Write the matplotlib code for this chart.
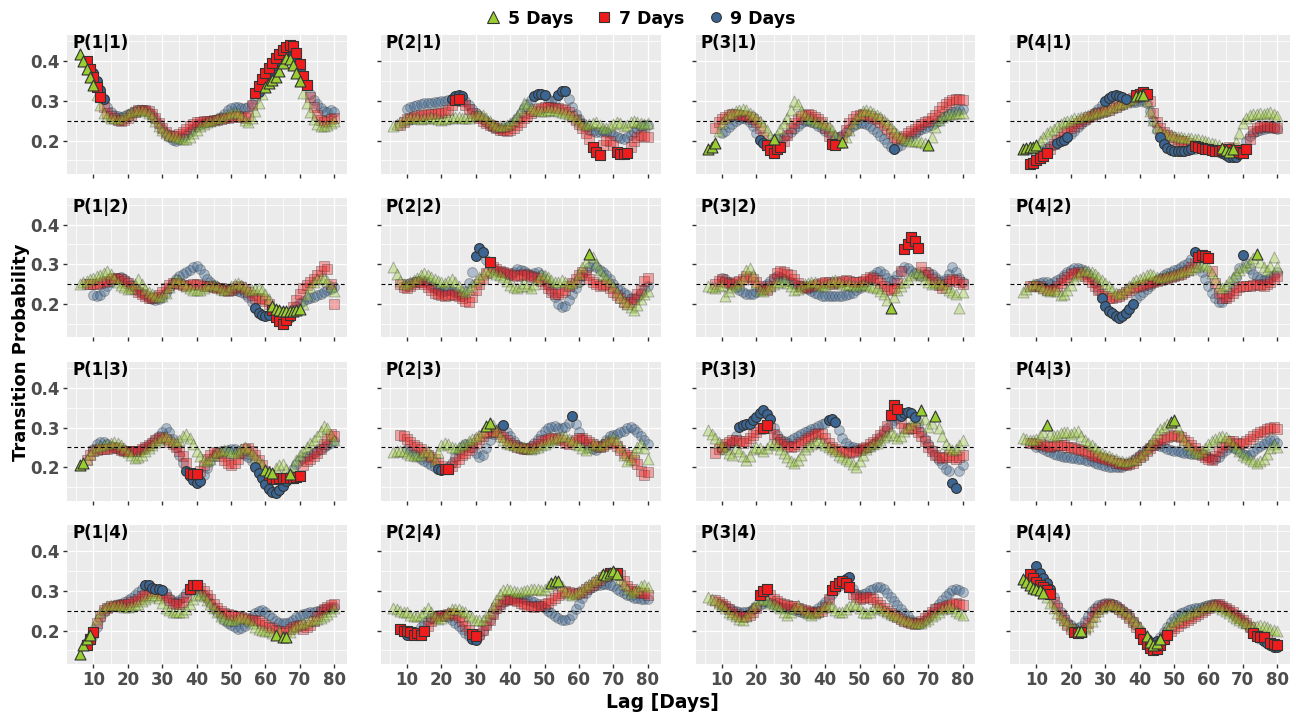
import numpy as np
import matplotlib
matplotlib.use("Agg")
import matplotlib.pyplot as plt
from matplotlib.lines import Line2D

plt.rcParams["font.family"] = ["DejaVu Sans"]

# transition probabilities in 1/1000, one value per lag day, last lag = 80
# 5 Days starts at lag 6, 7 Days at lag 8, 9 Days at lag 10
PANELS = ["1|1", "2|1", "3|1", "4|1",
          "1|2", "2|2", "3|2", "4|2",
          "1|3", "2|3", "3|3", "4|3",
          "1|4", "2|4", "3|4", "4|4"]

d5 = {
    "1|1": [419,400,380,360,340, 315,290,270,262,258, 256,255,257,262,268, 272,275,277,276,274,
            270,262,250,238,228, 220,215,212,210,207, 205,205,210,218,228, 236,242,246,250,253,
            256,258,262,266,270, 272,270,262,252,248, 258,275,295,318,336, 345,352,360,375,395,
            408,405,390,370,350, 320,295,272,255,242, 238,238,240,245,250],
    "2|1": [237,242,248,252,255, 257,258,256,254,256, 258,260,258,255,253, 254,256,258,260,259,
            257,256,258,261,264, 266,265,258,250,243, 238,236,236,239,244, 252,262,278,295,290,
            282,278,276,275,275, 276,277,276,275,273, 270,267,263,256,249, 243,240,242,245,246,
            240,232,232,238,243, 246,244,238,240,246, 250,248,244,242,244],
    "3|1": [180,185,195,225,245, 258,266,270,274,277, 280,276,270,264,258, 250,240,226,212,205,
            215,230,245,258,278, 300,292,275,265,258, 254,250,248,245,242, 236,226,215,204,196,
            210,228,245,258,268, 274,276,274,270,265, 260,252,245,235,225, 216,208,204,202,200,
            199,198,197,195,188, 210,235,252,260,264, 266,268,270,270,270],
    "4|1": [180,182,183,184,188, 200,210,218,224,230, 236,241,246,250,253, 256,258,260,262,265,
            268,270,272,275,277, 280,284,288,292,295, 298,302,306,312,316, 314,300,275,252,235,
            225,220,217,214,212, 210,208,207,206,206, 205,203,201,198,196, 194,192,188,182,176,
            172,178,196,218,245, 258,265,266,268,270, 268,270,272,268,262],
    "1|2": [250,254,258,262,266, 270,274,278,282,276, 266,256,248,242,238, 240,250,262,250,238,
            230,224,220,218,220, 228,242,256,264,260, 252,246,240,236,234, 236,240,246,250,248,
            244,238,234,238,244, 250,252,248,242,236, 235,238,240,236,226, 212,196,188,184,182,
            181,182,183,185,188, 200,222,242,255,262, 266,266,258,245,232],
    "2|2": [292,275,258,250,250, 254,260,266,272,278, 274,268,262,258,254, 252,258,264,256,244,
            234,230,238,248,258, 268,276,284,286,280, 275,272,268,258,248, 242,240,246,252,246,
            240,250,262,276,274, 268,260,255,256,260, 256,250,252,258,276, 292,305,325,318,300,
            285,272,265,258,245, 230,218,208,200,192, 185,198,212,226,232],
    "3|2": [245,242,240,244,248, 220,232,242,248,252, 262,285,290,272,252, 236,232,240,246,250,
            254,256,260,252,244, 235,238,244,250,252, 255,254,248,245,248, 252,258,260,255,250,
            248,250,248,245,248, 250,248,245,242,240, 232,224,210,189,218, 235,246,256,264,272,
            278,280,272,264,256, 250,252,256,250,242, 236,230,225,190,230],
    "4|2": [230,238,245,250,250, 246,240,235,232,234, 232,222,226,236,248, 262,274,282,286,284,
            280,275,268,260,252, 244,236,228,226,230, 238,246,254,260,264, 268,272,275,272,268,
            266,268,270,272,275, 278,280,282,285,288, 292,296,300,298,292, 278,262,245,240,248,
            258,268,278,286,292, 298,305,315,325,305, 292,285,295,318,292],
    "1|3": [207,212,222,234,244, 250,254,257,260,262, 264,262,256,248,238, 230,224,226,232,240,
            248,256,264,270,276, 278,272,266,264,270, 278,285,275,258,242, 228,218,215,220,230,
            238,242,244,242,238, 236,240,246,250,246, 236,226,216,208,194, 188,186,198,206,208,
            196,182,200,218,232, 242,252,262,270,280, 292,305,298,282,268],
    "2|3": [238,240,242,240,236, 232,230,229,232,238, 242,230,218,238,255, 262,258,250,248,252,
            256,260,266,272,276, 282,292,305,312,306, 292,278,268,262,258, 256,254,252,250,248,
            246,248,252,256,260, 264,268,272,276,280, 278,272,266,260,255, 248,244,252,260,258,
            254,260,266,272,276, 270,252,232,215,222, 238,252,262,248,222],
    "3|3": [295,285,275,265,256, 245,236,232,248,240, 228,218,228,246,252, 248,240,248,258,262,
            256,245,235,225,215, 210,218,232,246,254, 258,264,268,262,256, 252,246,240,232,226,
            222,215,208,202,215, 232,245,254,258,262, 270,276,282,288,282, 274,280,292,302,310,
            318,328,345,322,302, 312,330,300,278,258, 248,244,246,256,268],
    "4|3": [275,272,270,270,272, 278,288,306,285,278, 282,286,290,288,284, 290,292,280,270,262,
            255,248,242,236,232, 228,224,220,217,215, 214,215,218,222,228, 236,246,258,272,286,
            296,302,308,314,318, 300,282,268,255,245, 238,236,240,248,258, 266,272,276,278,276,
            270,260,250,240,232, 226,220,215,212,215, 222,234,248,258,252],
    "1|4": [142,165,178,190,210, 230,248,258,263,265, 265,264,262,260,260, 261,264,268,274,280,
            285,290,290,282,270, 258,252,248,246,246, 248,254,266,280,290, 292,286,276,266,256,
            246,238,232,228,226, 228,232,234,232,226, 218,210,205,202,200, 198,194,190,198,185,
            184,196,206,212,216, 220,223,226,228,230, 233,237,243,250,258],
    "2|4": [258,255,250,248,246, 240,236,236,240,248, 258,248,236,230,232, 240,248,254,255,254,
            250,246,240,234,228, 226,228,236,248,262, 278,292,302,304,302, 300,298,298,300,302,
            304,305,304,302,305, 312,320,326,325,312, 300,292,290,294,300, 306,312,318,324,330,
            336,342,340,344,350, 342,330,318,304,296, 300,306,312,316,310],
    "3|4": [284,280,276,270,264, 256,248,242,236,230, 228,236,248,260,270, 276,280,276,270,266,
            262,258,248,240,248, 258,264,258,250,244, 240,244,250,256,262, 266,260,252,246,248,
            254,262,268,264,256, 248,244,248,254,260, 258,252,246,242,240, 236,232,228,226,222,
            220,218,220,225,230, 236,242,248,254,258, 260,256,250,244,240],
    "4|4": [330,322,314,308,306, 302,296,284,270,256, 245,235,226,218,212, 206,200,198,204,212,
            225,238,250,257,262, 265,266,263,258,252, 246,238,228,218,208, 198,186,172,165,170,
            180,196,208,216,224, 230,236,240,243,246, 249,252,256,260,263, 265,264,260,255,250,
            244,238,232,226,221, 218,214,211,212,214, 212,208,205,202,200],
}

d7 = {
    "1|1": [400,380,360, 335,310,285,270,262, 256,252,250,252,258, 265,272,276,278,277, 274,268,258,245,232,
            222,215,211,212,216, 222,230,236,242,246, 248,250,250,250,251, 252,254,256,258,260, 261,262,260,257,262,
            290,320,338,355,370, 382,395,408,418,428, 436,442,438,420,392, 362,340,310,285,265, 252,248,250,255,258],
    "2|1": [240,248,255, 258,260,262,264,265, 266,267,268,269,270, 272,278,290,302,304, 300,290,280,270,262,
            256,250,245,240,236, 232,228,226,225,228, 233,240,248,256,263, 270,275,279,282,284, 285,284,282,281,280,
            278,272,262,252,242, 232,220,205,185,172, 165,190,202,198,188, 172,166,166,168,185, 200,210,215,212,210],
    "3|1": [232,248,255, 260,264,266,266,265, 264,262,259,254,248, 232,210,190,176,170, 178,185,198,215,232,
            245,255,262,265,266, 264,260,254,246,232, 212,192,188,195,210, 228,244,255,261,265, 266,264,261,258,254,
            248,240,230,220,210, 205,207,212,218,224, 230,236,241,246,250, 256,265,275,284,292, 298,302,304,305,302],
    "4|1": [140,144,150, 156,162,170,180,192, 202,210,218,225,232, 238,244,250,255,259, 263,266,269,272,275,
            278,281,285,289,293, 297,302,308,314,318, 322,318,300,270,248, 232,222,214,209,205, 202,200,198,195,190,
            186,184,182,180,178, 176,175,174,176,178, 185,182,176,172,170, 178,205,225,232,235, 236,236,235,234,233],
    "1|2": [250,250,250, 251,252,254,258,262, 265,266,264,258,252, 246,238,230,224,219, 216,215,217,222,230,
            240,248,252,252,250, 248,246,247,249,250, 248,246,245,244,242, 240,239,236,232,234, 240,244,243,238,230,
            222,216,214,212,208, 200,186,168,156,150, 160,172,192,210,226, 240,248,255,262,272, 284,296,288,250,200],
    "2|2": [250,242,240, 244,250,255,254,250, 242,234,228,224,222, 220,222,225,223,220, 214,208,205,218,234,
            250,264,278,305,292, 288,284,280,277,275, 272,270,272,275,273, 270,268,265,258,250, 240,230,226,225,230,
            236,244,252,262,272, 280,272,262,255,250, 245,248,250,240,230, 222,214,206,200,204, 212,224,236,258,265],
    "3|2": [250,258,262, 256,252,250,254,258, 264,270,268,264,255, 246,238,236,244,262, 278,282,280,276,272,
            262,252,244,240,242, 245,248,250,252,255, 254,250,252,255,258, 260,258,255,254,255, 258,262,268,266,260,
            252,245,238,234,240, 252,282,338,352,368, 358,340,292,280,272, 264,256,248,240,250, 258,262,260,255,250],
    "4|2": [245,246,246, 244,240,236,235,238, 245,252,260,268,275, 279,280,276,270,262, 254,244,235,226,220,
            216,215,217,220,225, 230,235,240,243,246, 248,250,252,255,258, 260,263,266,268,270, 273,276,280,285,292,
            302,318,322,320,315, 282,252,228,215,214, 220,228,236,242,246, 246,245,248,250,248, 246,250,256,264,270],
    "1|3": [218,230,240, 244,246,246,247,249, 250,248,244,241,240, 240,240,242,246,251, 256,262,268,273,276,
            272,265,258,252,242, 228,210,186,183,184, 190,205,220,232,238, 236,228,218,210,206, 210,222,236,246,248,
            240,230,218,205,192, 180,174,170,172,174, 173,172,174,175,178, 205,215,222,228,235, 245,258,272,285,278],
    "2|3": [282,280,272, 264,256,250,245,238, 232,226,220,212,204, 196,195,204,214,222, 230,237,244,252,262,
            272,280,286,290,292, 290,284,276,268,262, 256,252,249,246,246, 248,254,260,266,270, 272,274,275,272,268,
            262,260,264,270,275, 274,270,264,258,254, 250,254,260,264,262, 254,244,236,230,225, 218,208,190,180,188],
    "3|3": [235,245,252, 260,265,268,270,266, 262,266,274,282,290, 296,300,306,298,285, 272,264,258,254,252,
            254,258,264,270,275, 280,284,286,284,275, 262,252,246,242,240, 238,236,238,240,244, 248,252,258,264,272,
            282,292,305,332,356, 346,312,298,296,300, 298,290,278,266,252, 240,232,226,224,226, 230,226,222,226,230],
    "4|3": [262,261,260, 258,256,254,252,253, 255,256,255,252,250, 248,246,243,240,236, 232,229,226,223,220,
            218,215,212,210,208, 207,209,212,218,225, 232,240,248,255,262, 268,272,276,280,282, 280,276,270,264,256,
            248,240,232,225,220, 218,228,240,252,260, 266,266,262,260,262, 266,272,278,284,288, 292,296,300,302,296],
    "1|4": [164,180,196, 218,238,252,258,261, 263,264,265,266,268, 271,275,280,286,291, 296,300,300,296,290,
            284,276,270,266,266, 272,284,305,314,316, 308,300,290,279,268, 258,250,245,242,240, 238,236,234,232,230,
            228,226,224,220,215, 210,206,202,198,194, 198,204,208,212,214, 205,208,215,225,236, 246,254,260,264,266],
    "2|4": [205,200,200, 196,190,195,188,200, 212,224,232,236,238, 240,242,244,240,234, 224,212,202,192,186,
            192,202,214,228,242, 256,266,274,279,280, 278,274,270,266,263, 261,260,261,263,266, 270,276,283,290,296,
            300,298,294,292,294, 298,304,310,316,322, 328,334,340,344,346, 346,340,325,312,304, 300,298,296,294,290],
    "3|4": [276,272,268, 262,255,248,242,238, 235,236,240,248,258, 290,300,306,290,280, 274,270,267,265,263,
            261,258,255,252,250, 247,245,247,250,260, 280,302,312,320,325, 320,310,292,284,280, 282,285,284,280,272,
            264,256,250,245,240, 235,230,225,221,218, 216,218,224,232,240, 248,254,258,260,262, 265,268,270,268,264],
    "4|4": [342,332,322, 315,310,302,292,272, 256,240,226,214,205, 196,193,196,206,220, 234,246,254,260,264,
            266,264,260,254,248, 241,233,222,210,195, 180,166,156,150,155, 165,178,190,200,206, 212,218,223,228,233,
            238,243,248,253,258, 262,265,266,263,258, 252,246,240,233,226, 218,208,195,186,184, 184,180,170,166,165],
}

d9 = {
    "1|1": [370, 350,328,305,285,272, 265,262,260,262,266, 270,274,277,278,276, 272,265,255,242,230,
            218,208,202,200,203, 208,215,222,230,236, 241,245,248,250,252, 255,260,268,276,282,
            284,284,283,282,285, 292,305,322,338,352, 365,378,390,402,412, 420,425,418,400,380,
            360,340,318,302,292, 282,275,272,276,272],
    "2|1": [280, 285,288,290,292,294, 295,296,297,298,299, 300,302,306,312,314, 312,300,290,280,270,
            262,255,248,240,235, 232,230,231,234,240, 248,258,270,282,292, 302,312,318,318,315,
            305,300,302,315,325, 324,305,285,268,255, 245,235,228,224,222, 223,225,223,220,215,
            210,206,204,208,215, 222,230,236,240,240],
    "3|1": [218, 225,235,243,250,254, 256,254,248,236,218, 202,195,190,195,200, 203,206,210,215,222,
            230,238,245,249,250, 248,244,238,232,225, 218,211,208,210,215, 222,230,237,242,245,
            245,243,238,230,222, 212,203,195,185,178, 183,190,198,205,212, 218,224,229,233,236,
            240,245,250,256,261, 266,271,275,278,280],
    "4|1": [170, 174,178,182,186,190, 194,198,202,208,216, 225,234,242,250,258, 265,272,280,290,300,
            308,312,314,313,310, 305,300,298,298,300, 302,296,275,250,228, 208,192,182,176,174,
            173,173,174,176,178, 180,182,183,182,180, 178,175,172,168,164, 160,158,160,166,180,
            198,212,220,225,228, 230,231,232,231,230],
    "1|2": [222, 220,222,232,245,255, 262,266,268,264,256, 248,240,233,228,222, 216,212,210,212,218,
            228,240,252,262,270, 276,280,285,292,296, 288,276,264,254,247, 243,241,240,238,236,
            234,232,229,225,218, 205,190,176,172,170, 172,176,180,181,180, 168,166,184,194,202,
            208,212,215,218,222, 226,230,234,238,242],
    "2|2": [250, 252,255,258,260,258, 254,246,240,234,230, 232,235,233,230,224, 220,232,252,280,320,
            342,330,310,298,288, 282,280,280,276,272, 280,288,286,284,278, 274,278,280,272,264,
            248,232,218,200,192, 195,210,225,240,255, 270,282,292,300,292, 285,280,272,262,250,
            240,234,228,222,216, 212,218,228,238,245],
    "3|2": [265, 262,256,250,242,236, 230,226,224,226,230, 236,242,250,258,266, 270,268,264,258,254,
            250,248,246,242,238, 233,228,224,221,220, 219,219,220,220,221, 222,224,228,234,240,
            248,256,264,272,280, 282,276,266,258,260, 272,284,292,290,284, 278,272,270,276,280,
            276,268,260,256,262, 276,292,280,266,256],
    "4|2": [250, 252,255,254,250,254, 260,266,272,280,286, 290,290,288,284,276, 266,252,236,215,196,
            182,176,170,165,170, 178,188,200,212,222, 230,238,246,254,260, 266,272,277,281,285,
            289,293,298,304,312, 332,300,280,262,245, 228,214,205,206,214, 228,248,268,290,322,
            302,288,276,268,262, 260,262,266,272,280],
    "1|3": [245, 258,264,264,260,254, 250,246,244,242,240, 240,240,242,245,250, 256,264,272,280,290,
            298,290,272,252,232, 212,192,178,168,160, 166,180,198,215,228, 236,240,242,244,246,
            245,240,236,232,226, 215,200,186,172,158, 146,138,136,142,152, 165,180,196,208,218,
            224,228,232,236,240, 245,250,256,262,266],
    "2|3": [245, 240,234,228,222,216, 211,206,200,196,194, 196,202,212,226,240, 252,258,258,252,236,
            226,230,248,268,285, 295,300,306,290,278, 266,256,250,246,248, 254,262,272,282,292,
            298,302,304,300,298, 302,312,330,310,290, 272,260,252,246,244, 250,260,270,278,282,
            285,288,292,298,302, 296,288,278,268,260],
    "3|3": [245, 250,256,264,280,302, 306,308,310,318,328, 338,344,335,322,300, 282,272,266,264,268,
            274,280,284,288,292, 296,300,304,308,312, 320,322,315,295,275, 262,254,250,248,246,
            246,248,252,258,266, 276,288,300,310,318, 324,330,336,340,336, 328,310,290,272,258,
            244,230,218,208,196, 190,160,148,190,205],
    "4|3": [252, 250,246,242,238,234, 231,228,226,225,224, 223,221,220,219,217, 215,212,209,206,204,
            202,200,200,200,202, 205,210,216,223,231, 239,246,252,256,256, 254,250,247,244,242,
            240,238,236,235,234, 234,234,233,230,226, 222,221,226,235,244, 250,250,246,240,234,
            230,232,240,248,254, 258,264,270,268,262],
    "1|4": [190, 210,232,248,256,260, 263,266,268,271,276, 282,290,298,306,314, 316,308,305,304,303,
            294,282,274,272,276, 284,294,302,305,302, 296,290,282,270,258, 246,236,228,220,214,
            208,205,206,212,222, 234,244,250,252,248, 240,232,225,220,218, 218,222,228,234,238,
            241,244,246,248,250, 252,254,256,258,260],
    "2|4": [190, 194,196,194,208,218, 226,232,236,240,240, 238,234,228,220,212, 204,195,186,180,176,
            186,200,214,228,242, 254,264,272,277,280, 281,282,281,280,278, 275,272,268,262,256,
            250,244,238,232,228, 226,230,240,254,268, 282,294,304,310,314, 316,318,318,316,312,
            306,300,295,290,286, 283,281,280,280,280],
    "3|4": [265, 260,256,252,250,248, 246,247,250,255,260, 265,270,272,270,266, 263,260,258,256,254,
            251,249,247,245,245, 246,250,256,264,272, 282,292,302,312,322, 330,335,305,292,290,
            292,296,302,306,310, 310,305,296,285,274, 264,254,245,236,228, 222,218,220,226,235,
            245,256,266,276,286, 295,302,305,302,298],
    "4|4": [362, 345,332,320,304,284, 264,248,234,222,213, 207,206,212,224,238, 250,258,264,268,270,
            270,268,264,258,252, 245,236,225,213,200, 188,178,172,170,174, 184,196,210,222,232,
            239,244,248,251,254, 256,258,260,262,264, 266,267,266,262,256, 250,244,238,232,225,
            216,206,196,188,180, 174,168,163,160,160],
}

# lag ranges (inclusive) drawn opaque
hi5 = {"1|1": [(6, 10), (60, 70)], "3|1": [(6, 8), (25, 25), (45, 45), (70, 70)],
       "4|1": [(6, 10), (39, 41), (64, 67)], "1|2": [(62, 70)], "2|2": [(63, 63)],
       "3|2": [(59, 59)], "4|2": [(74, 74)], "1|3": [(6, 7), (60, 62), (67, 67)],
       "2|3": [(33, 34)], "3|3": [(68, 68), (72, 72)], "4|3": [(13, 13), (49, 50)],
       "1|4": [(6, 9), (63, 63), (65, 66)], "2|4": [(52, 54), (67, 71)],
       "4|4": [(6, 12), (22, 23), (42, 46)]}
hi7 = {"1|1": [(8, 12), (57, 72)], "2|1": [(24, 25), (64, 66), (71, 74)],
       "3|1": [(23, 27), (42, 43)], "4|1": [(8, 13), (39, 42), (56, 65), (68, 71)],
       "1|2": [(62, 67)], "2|2": [(34, 34)], "3|2": [(63, 67)], "4|2": [(57, 60)],
       "1|3": [(38, 40), (61, 70)], "2|3": [(21, 22)], "3|3": [(22, 23), (59, 61)],
       "1|4": [(8, 10), (38, 40)], "2|4": [(8, 15), (29, 30), (69, 71)],
       "3|4": [(21, 23), (42, 47)], "4|4": [(8, 14), (21, 23), (40, 48), (73, 76), (78, 80)]}
hi9 = {"1|1": [(10, 13), (58, 72)], "2|1": [(23, 26), (47, 50), (54, 56)],
       "3|1": [(21, 23), (60, 60)], "4|1": [(16, 19), (30, 36), (46, 55), (64, 69)],
       "1|2": [(57, 61), (66, 67)], "2|2": [(30, 32)], "4|2": [(29, 38), (56, 56), (70, 70)],
       "1|3": [(37, 41), (57, 66)], "2|3": [(19, 21), (38, 38), (58, 58)],
       "3|3": [(15, 24), (41, 43), (62, 66), (77, 78)], "1|4": [(25, 30)],
       "2|4": [(10, 13), (29, 30)], "3|4": [(46, 47)], "4|4": [(10, 14), (42, 45), (76, 80)]}

SERIES = [  # drawing order: 9, 7, 5 days
    ("9 Days", d9, hi9, "o", 50, "#3B6592"),
    ("7 Days", d7, hi7, "s", 44, "#EE1C1C"),
    ("5 Days", d5, hi5, "^", 62, "#9ACD32"),
]

W, H = 1296, 717
fig = plt.figure(figsize=(W / 100, H / 100), dpi=100)

COL_X = [67, 380.5, 695.5, 1010]
ROW_Y = [35, 198.3, 361.7, 525]
PW, PH = 280, 139
TICK_FONT = dict(fontsize=12, fontweight="bold", color="#4D4D4D")

for key in PANELS:
    col = int(key[0]) - 1
    row = int(key[2]) - 1
    ax = fig.add_axes([COL_X[col] / W, 1 - (ROW_Y[row] + PH) / H, PW / W, PH / H])
    ax.set_facecolor("#EBEBEB")
    for s in ax.spines.values():
        s.set_visible(False)
    ax.set_xlim(2.3, 83.7)
    ax.set_ylim(0.116, 0.466)
    ax.set_xticks(range(10, 81, 10))
    ax.set_xticks(range(5, 81, 10), minor=True)
    ax.set_yticks([0.2, 0.3, 0.4])
    ax.set_yticks([0.15, 0.25, 0.35, 0.45], minor=True)
    ax.grid(which="major", color="white", lw=0.9)
    ax.grid(which="minor", color="white", lw=0.55)
    ax.set_axisbelow(True)
    ax.tick_params(which="major", length=3, width=1, color="#333333", pad=2)
    ax.tick_params(which="minor", length=0)
    if col == 0:
        ax.set_yticklabels(["0.2", "0.3", "0.4"], **TICK_FONT)
    else:
        ax.set_yticklabels([])
    if row == 3:
        ax.set_xticklabels([str(v) for v in range(10, 81, 10)], **TICK_FONT)
    else:
        ax.set_xticklabels([])

    layers = []
    for name, data, hi, mk, size, color in SERIES:
        vals = np.array(data[key]) / 1000.0
        lags = np.arange(81 - len(vals), 81)
        mask = np.zeros(len(vals), dtype=bool)
        for a, b in hi.get(key, []):
            mask |= (lags >= a) & (lags <= b)
        ax.scatter(lags[~mask], vals[~mask], marker=mk, s=size, c=color,
                   edgecolors="#333333", linewidths=0.7, alpha=0.35, zorder=2)
        layers.append((lags[mask], vals[mask], mk, size, color))
    ax.axhline(0.25, color="black", lw=0.8, ls=(0, (3.5, 2.5)), zorder=3)
    for lx, ly, mk, size, color in layers:
        ax.scatter(lx, ly, marker=mk, s=size, c=color, edgecolors="#333333",
                   linewidths=0.8, zorder=4)
    ax.text(0.018, 1.005, "P(%s)" % key, transform=ax.transAxes, ha="left", va="top",
            fontsize=12, fontweight="bold", color="black", zorder=5)

handles = [
    Line2D([], [], ls="none", marker="^", ms=8, mfc="#9ACD32", mec="#333333", mew=0.8),
    Line2D([], [], ls="none", marker="s", ms=6.5, mfc="#EE1C1C", mec="#333333", mew=0.8),
    Line2D([], [], ls="none", marker="o", ms=7, mfc="#3B6592", mec="#333333", mew=0.8),
]
fig.legend(handles, ["5 Days", "7 Days", "9 Days"], loc="upper center",
           bbox_to_anchor=(640 / W, 1.0), ncol=3, frameon=False,
           prop={"weight": "bold", "size": 12.5}, handlelength=1.0,
           handletextpad=0.35, columnspacing=1.3, borderaxespad=0.15)

fig.text(21 / W, 1 - 352 / H, "Transition Probability", rotation=90, ha="center",
         va="center", fontsize=13, fontweight="bold")
fig.text(662 / W, 1 - 703 / H, "Lag [Days]", ha="center", va="center",
         fontsize=13.5, fontweight="bold")

fig.savefig("out.png", dpi=100)
